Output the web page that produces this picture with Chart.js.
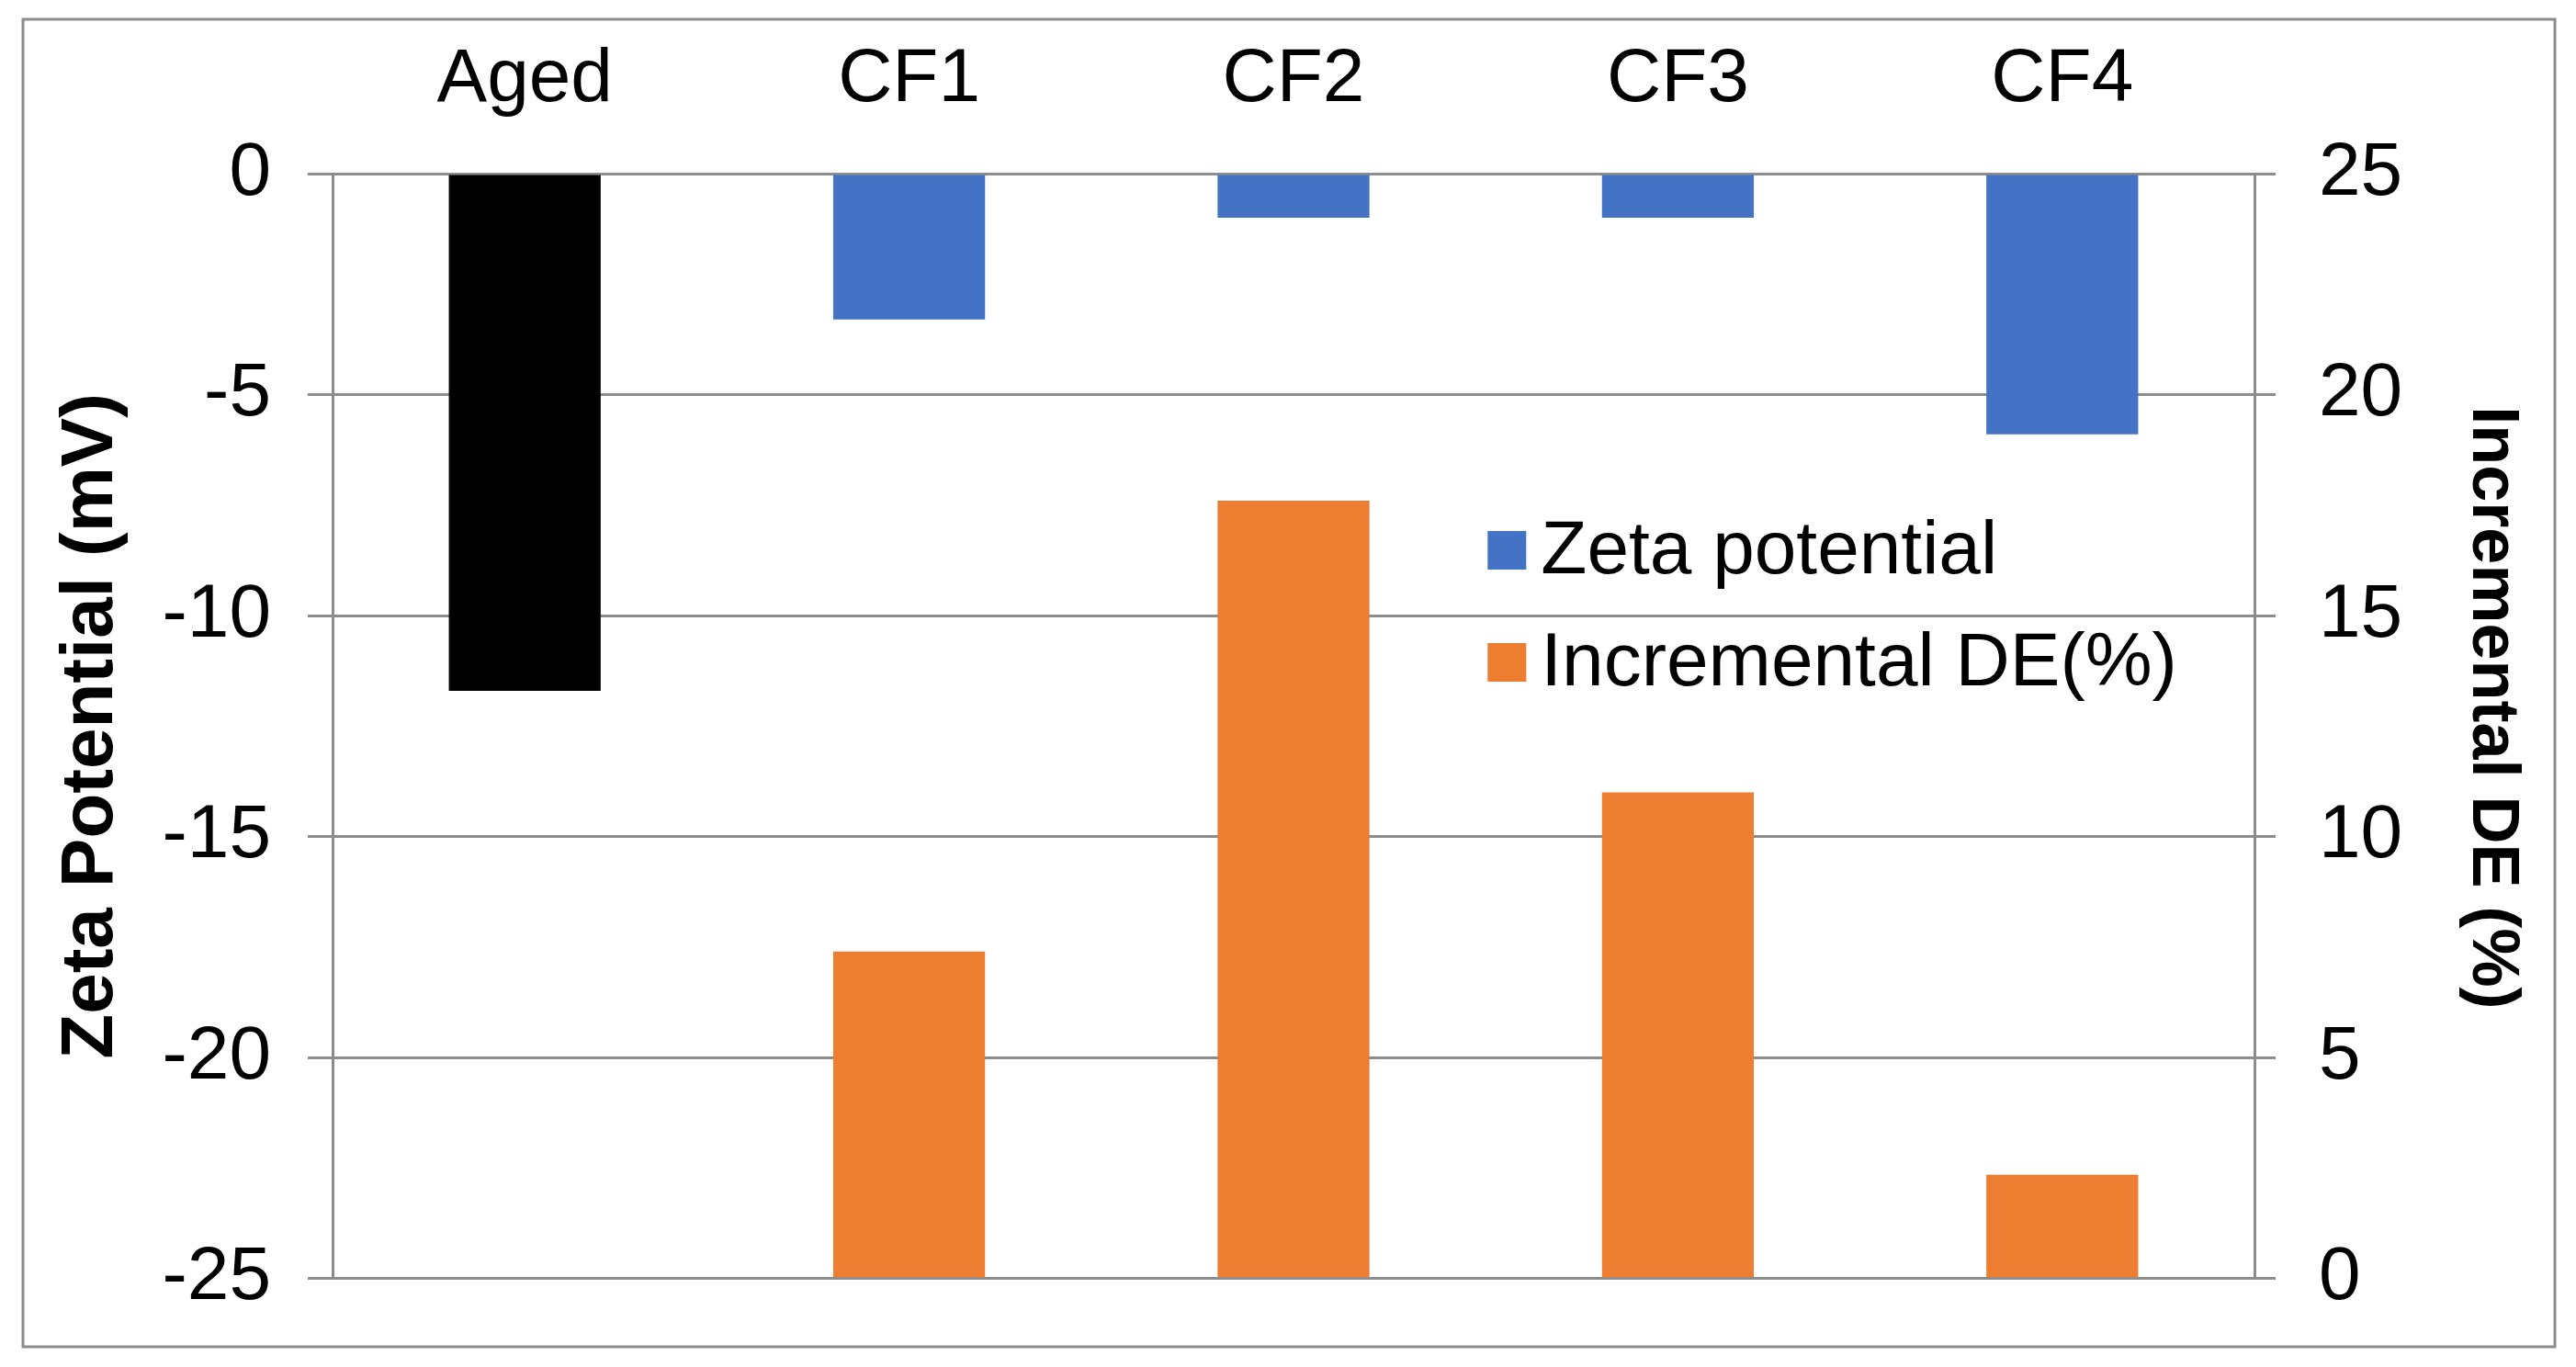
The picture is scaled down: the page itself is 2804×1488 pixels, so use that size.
<!DOCTYPE html>
<html>
<head>
<meta charset="utf-8">
<script src="https://cdn.jsdelivr.net/npm/chart.js@4.4.0/dist/chart.umd.min.js"></script>
<style>
  html, body { margin: 0; padding: 0; background: #fff; }
  #wrap { width: 2804px; height: 1488px; position: relative; }
</style>
</head>
<body>
<div id="wrap"><canvas id="zetaChart"></canvas></div>
<script>
/* data */
const categories = ["Aged", "CF1", "CF2", "CF3", "CF4"];
const zetaValues = [-11.7, -3.3, -1.0, -1.0, -5.9];
const deValues = [0, 7.4, 17.6, 11.0, 2.35];
const zetaTicks = [-25, -20, -15, -10, -5, 0];
const deTicks = [0, 5, 10, 15, 20, 25];

const blue = "#4472C4";
const orange = "#ED7D31";
const gridGray = "#8c8c8c";
const fontFamily = "'Liberation Sans', Arial, sans-serif";

/* white background + outer frame */
const framePlugin = {
    id: "frame",
    beforeDraw(chart) {
        const ctx = chart.ctx;
        ctx.save();
        ctx.fillStyle = "#fff";
        ctx.fillRect(0, 0, chart.width, chart.height);
        ctx.strokeStyle = gridGray;
        ctx.lineWidth = 3;
        ctx.strokeRect(25, 21, 2756, 1445);
        ctx.restore();
    },
};

/* legend drawn inside the plot, like Excel */
const insideLegend = {
    id: "insideLegend",
    afterDraw(chart) {
        const ctx = chart.ctx;
        const area = chart.chartArea;
        const x = area.left + (area.right - area.left) * 0.601;
        const rows = [
            { text: chart.data.datasets[0].label, color: blue },
            { text: chart.data.datasets[1].label, color: orange },
        ];
        ctx.save();
        ctx.font = "82px " + fontFamily;
        ctx.textBaseline = "middle";
        rows.forEach((r, i) => {
            const y = area.top + 410 + i * 122;
            ctx.fillStyle = r.color;
            ctx.fillRect(x, y - 21, 42, 42);
            ctx.fillStyle = "#000";
            ctx.fillText(r.text, x + 58, y + 2);
        });
        ctx.restore();
    },
};

const ctx = document.getElementById("zetaChart").getContext("2d");
const chart = new Chart(ctx, {
    type: "bar",
    data: {
        labels: categories,
        datasets: [
            {
                label: "Zeta potential",
                data: zetaValues,
                backgroundColor: ["#000000", blue, blue, blue, blue],
                yAxisID: "yZeta",
                grouped: false,
                barPercentage: 0.395,
                categoryPercentage: 1,
            },
            {
                label: "Incremental DE(%)",
                data: deValues,
                backgroundColor: orange,
                yAxisID: "yDE",
                grouped: false,
                barPercentage: 0.395,
                categoryPercentage: 1,
            },
        ],
    },
    options: {
        responsive: true,
        maintainAspectRatio: false,
        animation: false,
        layout: { padding: { top: 0, left: 0, right: 0, bottom: 96 } },
        plugins: {
            legend: { display: false },
            tooltip: { enabled: false },
        },
        scales: {
            x: {
                position: "top",
                grid: { display: false, drawTicks: false },
                border: { display: false },
                ticks: {
                    color: "#000",
                    padding: 52,
                    font: { family: fontFamily, size: 82 },
                },
                afterFit(scale) { scale.height = 189; },
            },
            yZeta: {
                position: "left",
                min: -25,
                max: 0,
                afterBuildTicks(scale) { scale.ticks = zetaTicks.map(v => ({ value: v })); },
                grid: { color: gridGray, lineWidth: 3, tickLength: 27 },
                border: { display: true, color: gridGray, width: 3 },
                ticks: {
                    color: "#000",
                    padding: 40,
                    font: { family: fontFamily, size: 82 },
                },
                title: {
                    display: true,
                    text: "Zeta Potential (mV)",
                    color: "#000",
                    font: { family: fontFamily, size: 80, weight: "bold", lineHeight: 1 },
                    padding: { top: 60, bottom: 0 },
                },
                afterFit(scale) { scale.width = 362; },
            },
            yDE: {
                position: "right",
                min: 0,
                max: 25,
                afterBuildTicks(scale) { scale.ticks = deTicks.map(v => ({ value: v })); },
                grid: { drawOnChartArea: false, color: gridGray, lineWidth: 3, tickLength: 23 },
                border: { display: true, color: gridGray, width: 3 },
                ticks: {
                    color: "#000",
                    padding: 47,
                    font: { family: fontFamily, size: 82 },
                },
                title: {
                    display: true,
                    // trailing spaces nudge the centred title upward, as in the figure
                    text: "Incremental DE (%)  ",
                    color: "#000",
                    font: { family: fontFamily, size: 72, weight: "bold", lineHeight: 1 },
                    padding: { top: 56, bottom: 0 },
                },
                afterFit(scale) { scale.width = 350; },
            },
        },
    },
    plugins: [framePlugin, insideLegend],
});
</script>
</body>
</html>
